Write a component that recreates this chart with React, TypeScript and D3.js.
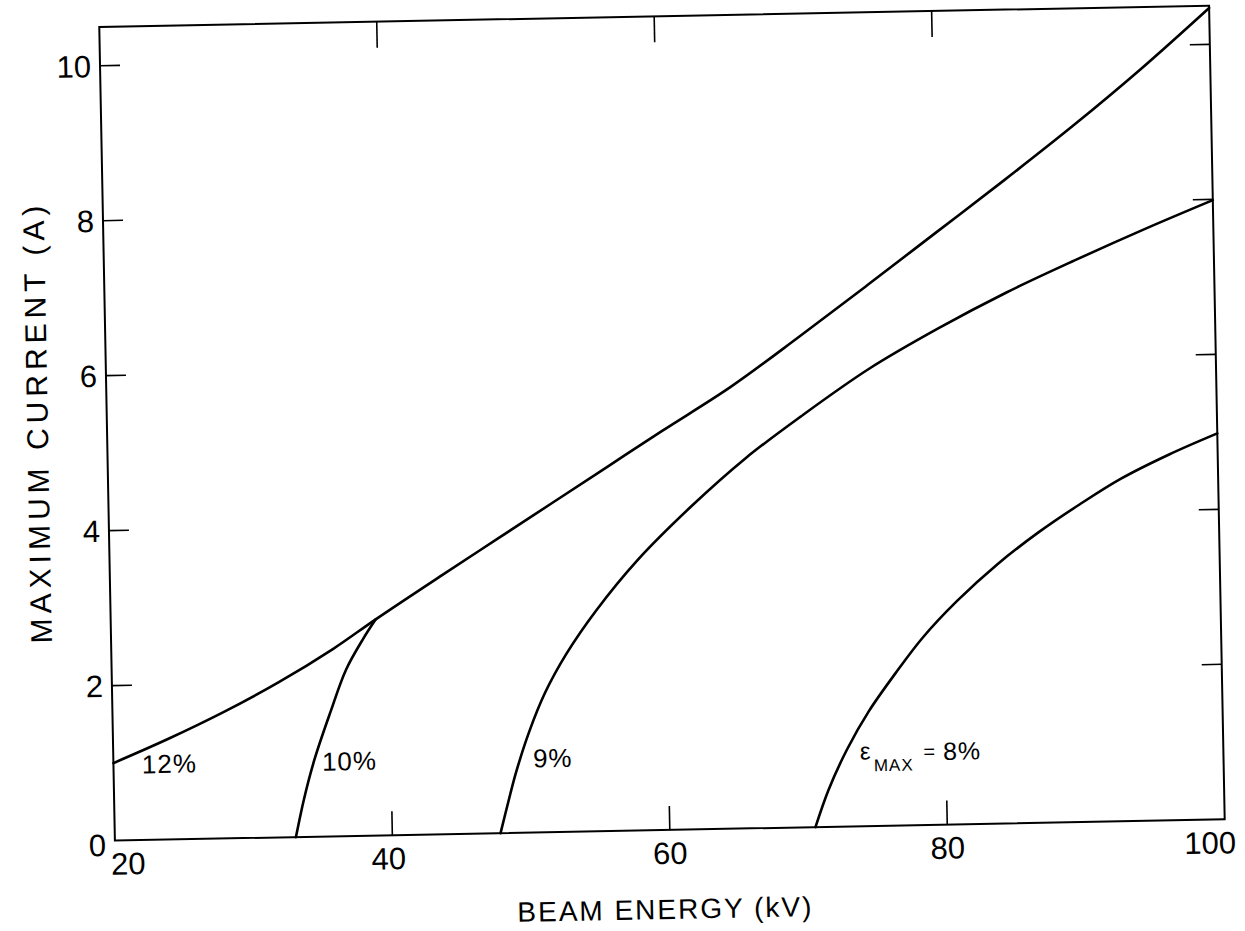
import React from 'react';
import * as d3 from 'd3';

// Axis ticks
const xTicks = [20, 40, 60, 80, 100];
const yTicks = [0, 2, 4, 6, 8, 10];
const innerXTicks = [40, 60, 80];
const innerYTicks = [2, 4, 6, 8, 10];

// Curves: [beam energy kV, maximum current A]
const curve12 = [
  [20, 1.0], [24, 1.3], [28, 1.63], [32, 2.0], [36, 2.42], [39.1, 2.79], [44, 3.35],
  [48, 3.8], [52, 4.25], [56, 4.7], [60, 5.15], [65, 5.7], [70, 6.33], [75, 6.98],
  [80, 7.64], [85, 8.3], [90, 8.98], [95, 9.7], [100, 10.47],
];
const curve10 = [
  [33.05, 0], [33.7, 0.5], [34.5, 1.0], [35.7, 1.6], [36.9, 2.15], [38.2, 2.55], [39.1, 2.79],
];
const curve9 = [
  [47.8, 0], [48.4, 0.4], [49.0, 0.78], [50.0, 1.3], [51.2, 1.8], [52.8, 2.3], [55, 2.85],
  [58, 3.48], [62, 4.17], [66, 4.78], [70, 5.3], [75, 5.9], [80, 6.4], [85, 6.85],
  [90, 7.25], [95, 7.63], [100, 7.99],
];
const curve8 = [
  [70.5, 0], [71.5, 0.48], [72.9, 1.0], [74.5, 1.48], [76.5, 1.97], [78.5, 2.42], [81, 2.88],
  [84, 3.35], [87, 3.75], [90, 4.1], [93, 4.42], [96.5, 4.72], [100, 4.98],
];
const curves = [curve12, curve10, curve9, curve8];

// Curve labels (anchor at left/baseline in data units)
const curveLabels = [
  { text: '12%', x: 22.05, y: 0.86 },
  { text: '10%', x: 35.03, y: 0.85 },
  { text: '9%', x: 50.24, y: 0.84 },
];
const epsLabel = { x: 73.8, y: 0.86 };

const FONT = "'Liberation Sans', Arial, sans-serif";

export default function App() {
  const W = 1245;
  const H = 931;
  const x = d3.scaleLinear().domain([20, 100]).range([107, 1217]);
  const y = d3.scaleLinear().domain([0, 10.5]).range([830, 16.25]);
  const line = d3
    .line<number[]>()
    .x((d) => x(d[0]))
    .y((d) => y(d[1]))
    .curve(d3.curveCatmullRom.alpha(0.5));

  const x0 = x(20);
  const x1 = x(100);
  const yTop = y(10.5);
  const yBot = y(0);

  const xLabelOffset = (v: number) => (v === 20 ? 13 : v === 100 ? -15 : v === 40 ? -4 : 0);

  return (
    <svg
      width={W}
      height={H}
      style={{ position: 'absolute', left: 0, top: 0, background: '#fff' }}
    >
      <rect width={W} height={H} fill="#fff" />
      <g transform="rotate(-1.1 662 423.75)" fontFamily={FONT} fill="#000">
        {/* frame */}
        <rect
          x={x0}
          y={yTop}
          width={x1 - x0}
          height={yBot - yTop}
          fill="none"
          stroke="#000"
          strokeWidth={2}
        />
        {/* ticks */}
        {innerXTicks.map((t) => (
          <g key={'xt' + t}>
            <line x1={x(t)} x2={x(t)} y1={yBot} y2={yBot - 24} stroke="#000" strokeWidth={1.6} />
            <line x1={x(t)} x2={x(t)} y1={yTop} y2={yTop + 26} stroke="#000" strokeWidth={1.6} />
          </g>
        ))}
        {innerYTicks.map((t) => (
          <g key={'yt' + t}>
            <line x1={x0} x2={x0 + 20} y1={y(t)} y2={y(t)} stroke="#000" strokeWidth={1.6} />
            <line x1={x1} x2={x1 - 20} y1={y(t)} y2={y(t)} stroke="#000" strokeWidth={1.6} />
          </g>
        ))}
        {/* tick labels */}
        {xTicks.map((t) => (
          <text
            key={'xl' + t}
            x={x(t) + xLabelOffset(t)}
            y={yBot + 34}
            fontSize={31}
            textAnchor="middle"
          >
            {t}
          </text>
        ))}
        {yTicks.map((t) => (
          <text
            key={'yl' + t}
            x={x0 - 9}
            y={y(t) + (t === 0 ? 4 : 0)}
            dy="0.36em"
            fontSize={31}
            textAnchor="end"
          >
            {t}
          </text>
        ))}
        {/* axis titles */}
        <text x={656} y={919} fontSize={28} letterSpacing={2} textAnchor="middle">
          BEAM ENERGY (kV)
        </text>
        <text
          transform="translate(37 410) rotate(-90)"
          fontSize={30}
          letterSpacing={5}
          textAnchor="middle"
          dy="0.36em"
        >
          MAXIMUM CURRENT (A)
        </text>
        {/* curves */}
        {curves.map((c, i) => (
          <path
            key={'c' + i}
            d={line(c) || ''}
            fill="none"
            stroke="#000"
            strokeWidth={2.6}
            strokeLinejoin="round"
            strokeLinecap="round"
          />
        ))}
        {/* curve labels */}
        {curveLabels.map((l) => (
          <text key={l.text} x={x(l.x)} y={y(l.y)} fontSize={26} letterSpacing={1}>
            {l.text}
          </text>
        ))}
        <text x={x(epsLabel.x)} y={y(epsLabel.y)} fontSize={24}>
          <tspan>ε</tspan>
          <tspan fontSize={17} dx={3} dy={12} letterSpacing={1}>MAX</tspan>
          <tspan fontSize={20} dx={10} dy={-12}>=</tspan>
          <tspan fontSize={25} dx={8} dy={2} letterSpacing={1}>8%</tspan>
        </text>
      </g>
    </svg>
  );
}
